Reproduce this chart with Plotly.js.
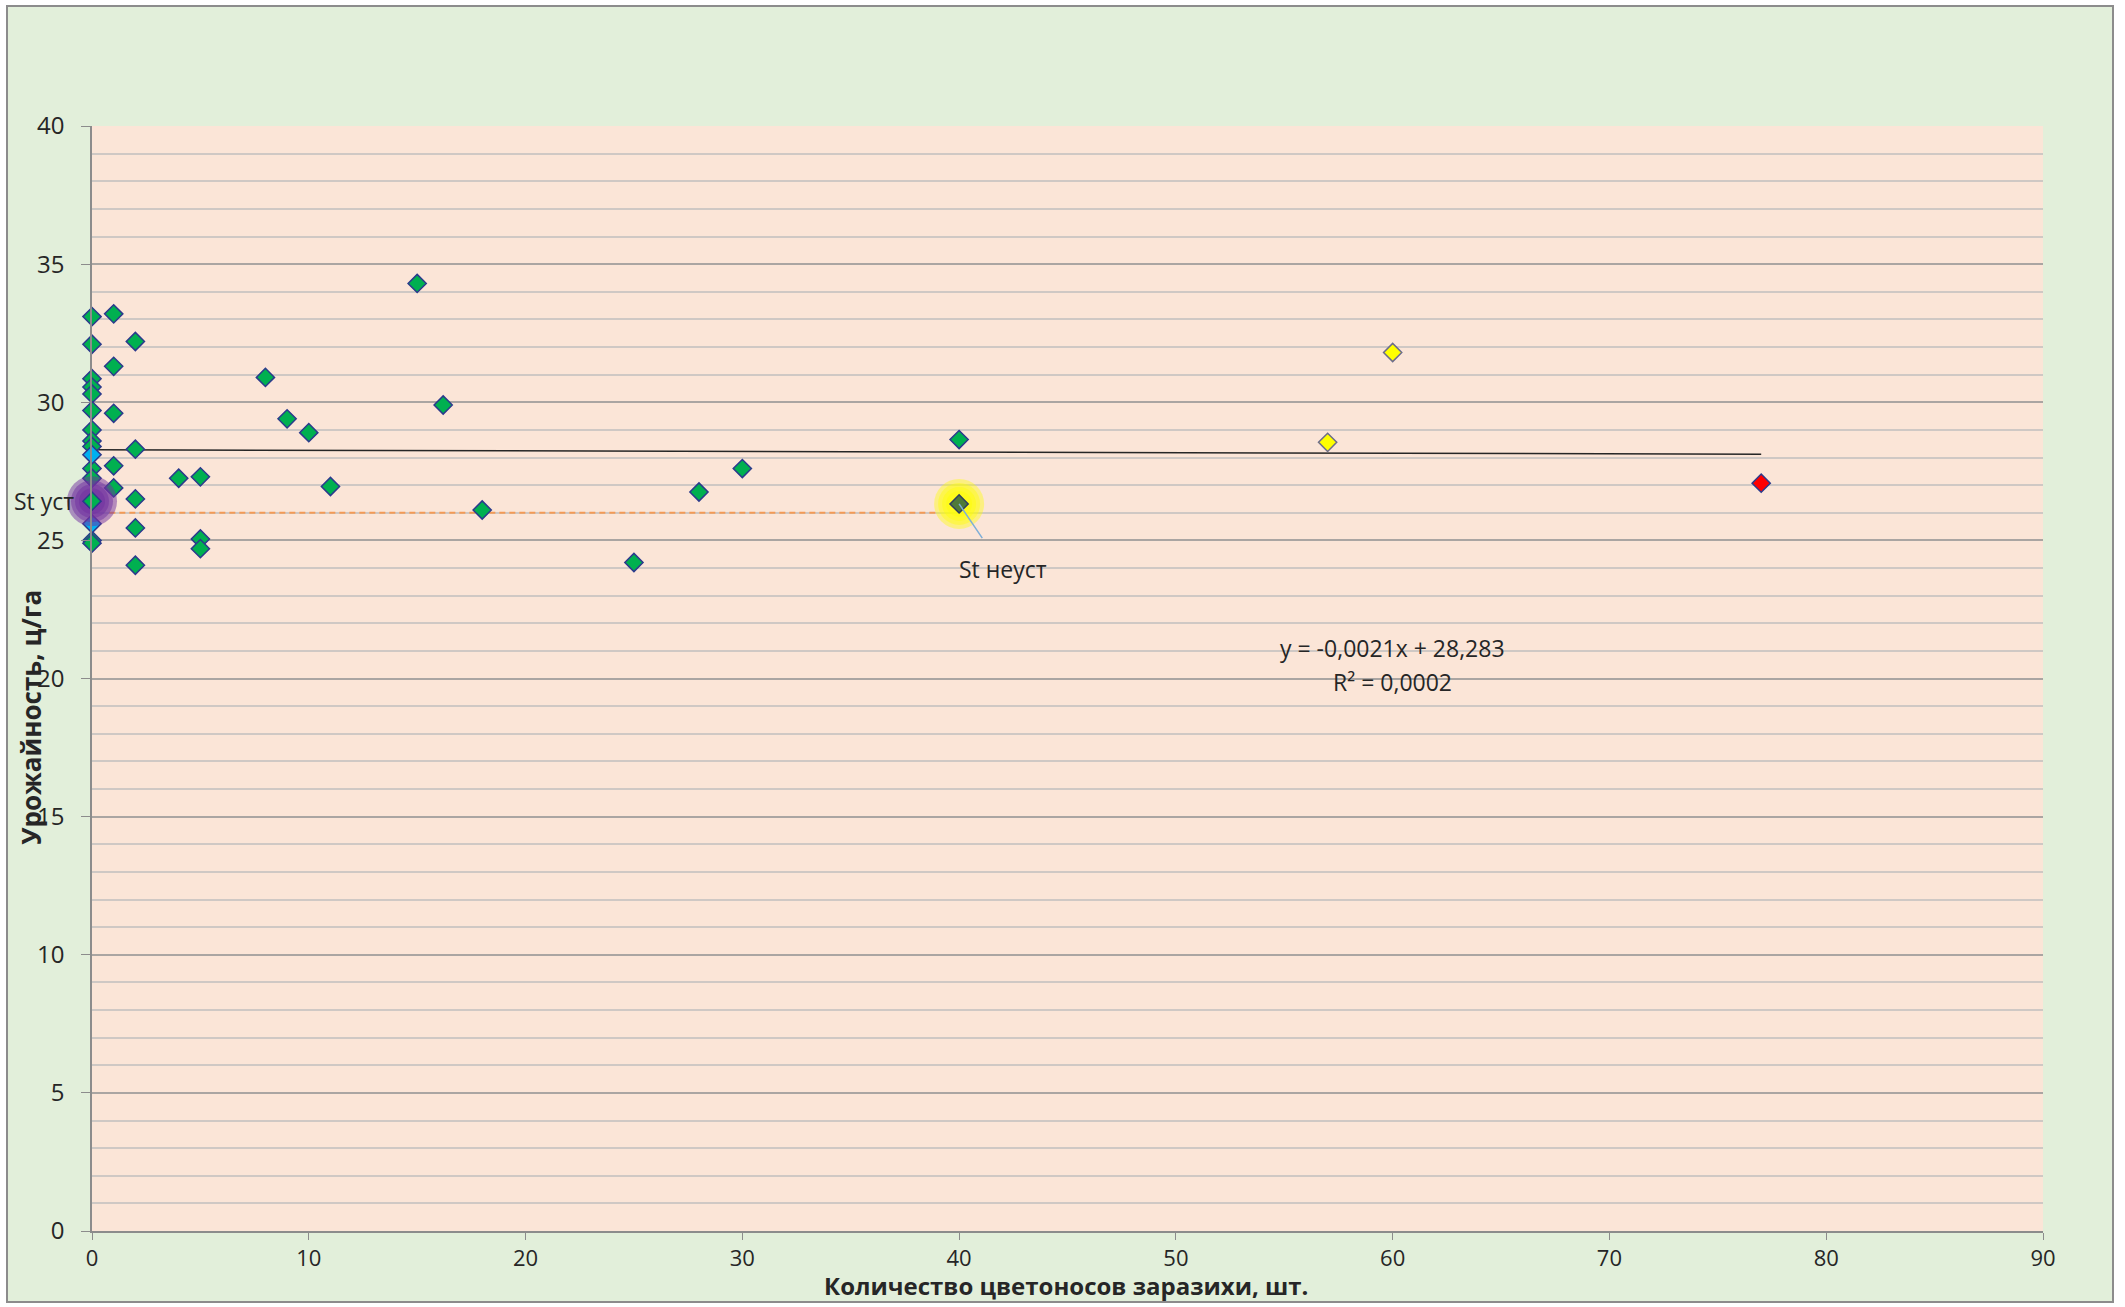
<!DOCTYPE html>
<html>
<head>
<meta charset="utf-8">
<script src="https://cdn.plot.ly/plotly-3.0.1.min.js"></script>
<style>
	body {
		margin: 0;
		background: #ffffff;
	}
	#chart {
		position: absolute;
		left: 6px;
		top: 5px;
		width: 2104px;
		height: 1294px;
		border: 2px solid #8c8c8c;
	}
</style>
</head>
<body>
<div id="chart"></div>
<script>
// points
const greenX = [
	0, 0, 0, 0, 0, 0, 0, 0, 0, 0, 0, 0, 0,
	1, 1, 1, 1, 1,
	2, 2, 2, 2, 2,
	4, 5, 5, 5,
	8, 9, 10, 11,
	15, 16.2, 18,
	25, 28, 30, 40,
]
const greenY = [
	33.1, 32.1, 30.85, 30.55, 30.3, 29.7, 29.0, 28.6, 28.4, 27.6, 27.25, 25.0, 24.9,
	33.2, 31.3, 29.6, 27.7, 26.9,
	32.2, 28.3, 26.5, 25.45, 24.1,
	27.25, 27.3, 25.05, 24.7,
	30.9, 29.4, 28.9, 26.95,
	34.3, 29.9, 26.1,
	24.2, 26.75, 27.6, 28.65,
]
const blueX = [0, 0]
const blueY = [28.1, 25.6]
const yellowX = [57, 60]
const yellowY = [28.55, 31.8]
const redX = [77]
const redY = [27.07]
const stUstX = [0]
const stUstY = [26.42]
const stNeustX = [40]
const stNeustY = [26.32]
const stLineX = [0.8, 39]
const stLineY = [26.0, 26.0]
const trendX = [0, 77]
const trendY = [28.28, 28.12]
const trendEq = 'y = -0,0021x + 28,283'
const trendR2 = 'R² = 0,0002'

const xTitle = 'Количество цветоносов заразихи, шт.'
const yTitle = 'Урожайность, ц/га'

const font = '"Open Sans", "DejaVu Sans", sans-serif'
const edge = '#2b3a8c'
const ink = '#262626'

function points(x, y, color, lineColor) {
	return {
		x: x,
		y: y,
		type: 'scatter',
		mode: 'markers',
		cliponaxis: false,
		hoverinfo: 'x+y',
		marker: {
			symbol: 'diamond',
			size: 14,
			color: color,
			line: {color: lineColor, width: 1.5},
		},
	}
}

// soft halo made of stacked translucent circles
function glow(x, y, color, opacity) {
	return [50, 42, 34, 26].map((size) => ({
		x: x,
		y: y,
		type: 'scatter',
		mode: 'markers',
		cliponaxis: false,
		hoverinfo: 'skip',
		marker: {
			symbol: 'circle',
			size: size,
			color: color,
			opacity: opacity,
			line: {width: 0},
		},
	}))
}

const traces = [
	{
		x: trendX,
		y: trendY,
		type: 'scatter',
		mode: 'lines',
		line: {color: ink, width: 1.5},
		hoverinfo: 'skip',
	},
	{
		x: stLineX,
		y: stLineY,
		type: 'scatter',
		mode: 'lines',
		line: {color: '#f49a55', width: 1.8, dash: '6px,4px'},
		hoverinfo: 'skip',
	},
	points(greenX, greenY, '#00b050', edge),
	points(blueX, blueY, '#00b0f0', edge),
	points(yellowX, yellowY, '#ffff00', '#6c6c8c'),
	points(redX, redY, '#ff0000', edge),
	...glow(stUstX, stUstY, '#7030a0', 0.5),
	...glow(stNeustX, stNeustY, '#ffff00', 0.4),
	points(stUstX, stUstY, '#00b050', edge),
	points(stNeustX, stNeustY, '#4f7a3a', '#2f3f5f'),
]

const layout = {
	width: 2104,
	height: 1294,
	margin: {l: 84, r: 69, t: 119, b: 70},
	paper_bgcolor: '#e2efda',
	plot_bgcolor: '#fbe5d7',
	showlegend: false,
	font: {family: font, size: 23, color: ink},
	xaxis: {
		range: [0, 90],
		dtick: 10,
		showgrid: false,
		zeroline: false,
		showline: true,
		linecolor: '#8c8c8c',
		linewidth: 1.5,
		ticks: 'outside',
		ticklen: 7,
		tickcolor: '#8c8c8c',
		ticklabelstandoff: 0,
		tickfont: {size: 22, color: ink},
	},
	yaxis: {
		range: [0, 40],
		dtick: 5,
		showgrid: true,
		gridcolor: '#aaa5a2',
		gridwidth: 1.5,
		zeroline: false,
		showline: true,
		linecolor: '#8c8c8c',
		linewidth: 1.5,
		ticks: 'outside',
		ticklen: 9,
		tickcolor: '#8c8c8c',
		ticklabelstandoff: 12,
		tickfont: {size: 24, color: ink},
		minor: {
			dtick: 1,
			showgrid: true,
			gridcolor: '#cfc8c4',
			gridwidth: 1.5,
		},
	},
	annotations: [
		{
			xref: 'paper',
			yref: 'paper',
			x: 0.499,
			y: -0.0495,
			yanchor: 'middle',
			text: '<b>' + xTitle + '</b>',
			showarrow: false,
			font: {size: 24, color: ink},
		},
		{
			xref: 'paper',
			yref: 'paper',
			x: -0.031,
			y: 0.465,
			xanchor: 'center',
			yanchor: 'middle',
			textangle: -90,
			text: '<b>' + yTitle + '</b>',
			showarrow: false,
			font: {size: 26, color: ink},
		},
		{
			x: stUstX[0],
			y: stUstY[0],
			text: 'St уст',
			showarrow: false,
			xanchor: 'right',
			xshift: -16,
		},
		{
			x: stNeustX[0],
			y: stNeustY[0],
			text: 'St неуст',
			showarrow: true,
			arrowhead: 0,
			arrowwidth: 1.5,
			arrowcolor: '#7fafd8',
			ax: 44,
			ay: 65,
			startstandoff: 16,
		},
		{
			x: 60,
			y: 21.1,
			text: trendEq,
			showarrow: false,
		},
		{
			x: 60,
			y: 19.88,
			text: trendR2,
			showarrow: false,
		},
	],
}

Plotly.newPlot('chart', traces, layout, {displayModeBar: false})
</script>
</body>
</html>
